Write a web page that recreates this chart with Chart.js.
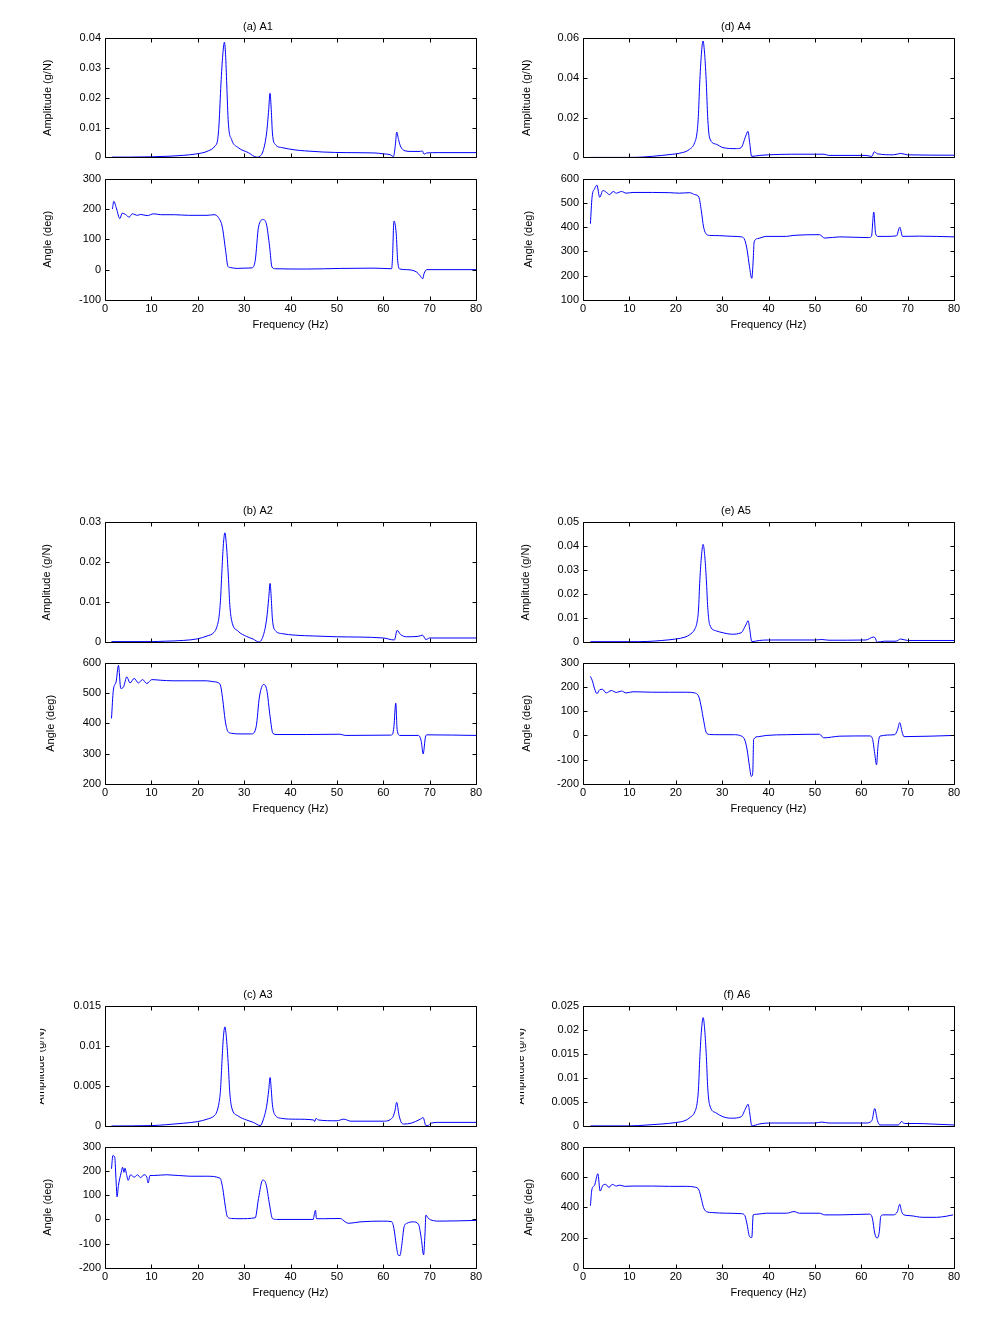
<!DOCTYPE html>
<html>
<head>
<meta charset="utf-8">
<script src="https://cdn.jsdelivr.net/npm/chart.js@4.4.1/dist/chart.umd.min.js"></script>
<style>
  body { margin: 0; background: #fff; width: 1000px; height: 1331px; position: relative; overflow: hidden; }
  canvas { position: absolute; }
</style>
</head>
<body>
<script>
// frequency ticks shared by every subplot
const xTicks = [0, 10, 20, 30, 40, 50, 60, 70, 80];

// (a) A1
const a1AmpF = [1.5, 5, 10, 14, 17, 19.4, 22.3, 23.7, 24.3, 24.6, 25, 25.4, 25.75, 26, 26.25, 26.6, 27.3, 28.7, 30.9, 32.7, 33.4, 34.1, 34.85, 35.3, 35.58, 35.85, 36.1, 36.7, 38.1, 41, 43, 47, 52, 58, 60, 61.5, 62.2, 62.6, 62.9, 63.3, 63.7, 64.7, 66, 68, 68.4, 68.8, 69.4, 72, 80];
const a1AmpY = [0.0001, 0.0001, 0.0002, 0.0004, 0.0007, 0.0011, 0.0022, 0.0038, 0.006, 0.0115, 0.0246, 0.0344, 0.0386, 0.0344, 0.0246, 0.0115, 0.006, 0.0033, 0.0016, 0.0001, 0.0004, 0.0022, 0.0082, 0.016, 0.0215, 0.016, 0.0082, 0.0044, 0.0033, 0.0025, 0.0022, 0.0018, 0.0016, 0.0015, 0.0012, 0.0009, 0.0003, 0.004, 0.0085, 0.006, 0.0038, 0.0022, 0.002, 0.002, 0.0022, 0.0011, 0.0015, 0.0016, 0.0016];
const a1AngF = [1.6, 1.9, 2.5, 3.2, 3.7, 4.4, 5.2, 5.9, 7, 7.7, 9.1, 10.5, 12, 15, 18, 22, 23.5, 24.5, 25.3, 26, 26.5, 27, 28.5, 30, 31.7, 32.4, 33.1, 34.1, 34.8, 35.5, 36, 36.7, 43.5, 50.7, 58, 61.8, 62, 62.3, 62.8, 63.1, 63.6, 65, 67.2, 67.9, 68.5, 68.8, 69.4, 80];
const a1AngY = [200, 225, 200, 168, 186, 182, 173, 184, 179, 182, 178, 184, 181, 181, 179, 179, 181, 171, 140, 64, 11, 7, 4, 5, 6, 31, 140, 165, 151, 75, 9, 3, 2, 4, 5, 3, 40, 160, 118, 31, 2, 0, -8, -19, -30, -13, 0, 0];
const a1AmpTicks = [0, 0.01, 0.02, 0.03, 0.04];
const a1AngTicks = [-100, 0, 100, 200, 300];

// (b) A2
const a2AmpF = [1.4, 10, 13, 17, 20, 22, 23.5, 24.1, 24.6, 24.9, 25.2, 25.5, 25.85, 26.2, 26.6, 26.9, 27.3, 28.7, 30.5, 32, 33.2, 34.1, 34.85, 35.3, 35.6, 35.85, 36.1, 36.7, 38.1, 41, 45, 50, 60, 62.4, 63, 63.7, 65, 67.5, 68.5, 69.2, 70, 80];
const a2AmpY = [0.0002, 0.0002, 0.0003, 0.0005, 0.0009, 0.0016, 0.0025, 0.0038, 0.0065, 0.0105, 0.0175, 0.024, 0.0273, 0.024, 0.0165, 0.0095, 0.0055, 0.0028, 0.0015, 0.0008, 0.0001, 0.0016, 0.0058, 0.011, 0.0147, 0.011, 0.0058, 0.003, 0.0022, 0.0018, 0.0016, 0.0014, 0.0011, 0.0006, 0.003, 0.002, 0.0014, 0.0015, 0.0018, 0.0007, 0.0011, 0.0011];
const a2AngF = [1.4, 1.8, 2.4, 2.9, 3.4, 4, 4.7, 5.4, 6.3, 7.2, 8.1, 9, 10.1, 11.9, 14.7, 18.3, 21.9, 23.4, 24.8, 25.4, 25.9, 26.5, 27.3, 29.1, 31.6, 32.6, 33.3, 34.2, 34.9, 35.6, 36.2, 37.1, 43.5, 50.7, 51.8, 61.5, 62, 62.3, 62.7, 63, 63.6, 67.6, 68.2, 68.6, 69.1, 69.4, 80];
const a2AngY = [416, 509, 537, 591, 515, 520, 553, 533, 548, 533, 544, 531, 544, 542, 540, 540, 540, 537, 529, 477, 411, 373, 367, 365, 365, 389, 487, 528, 509, 422, 367, 363, 363, 364, 360, 361, 364, 389, 466, 378, 360, 360, 340, 299, 355, 362, 360];
const a2AmpTicks = [0, 0.01, 0.02, 0.03];
const a2AngTicks = [200, 300, 400, 500, 600];

// (c) A3
const a3AmpF = [1.4, 10, 13, 17, 20, 22, 23.5, 24.1, 24.6, 24.9, 25.2, 25.5, 25.85, 26.2, 26.6, 26.9, 27.3, 28.7, 30.5, 32, 33.5, 34.1, 34.85, 35.3, 35.6, 35.85, 36.1, 36.7, 38.1, 41, 45, 45.2, 45.5, 46, 50, 51.5, 53, 60, 62, 62.5, 62.9, 63.4, 64, 64.5, 66, 68, 68.6, 69.2, 69.6, 70.3, 72, 80];
const a3AmpY = [0.00005, 0.0001, 0.0002, 0.0004, 0.0006, 0.0009, 0.0013, 0.0018, 0.003, 0.0045, 0.0078, 0.0109, 0.0124, 0.0109, 0.0075, 0.0043, 0.0024, 0.0013, 0.0008, 0.0005, 0.0001, 0.0008, 0.0025, 0.0045, 0.0061, 0.0046, 0.0027, 0.0014, 0.001, 0.0009, 0.0008, 0.0006, 0.001, 0.0008, 0.0007, 0.0009, 0.00065, 0.00065, 0.0011, 0.0019, 0.003, 0.0014, 0.0004, 0.0003, 0.0004, 0.0009, 0.0011, 0.0001, 0.0001, 0.0004, 0.0005, 0.0005];
const a3AngF = [1.4, 1.7, 2.1, 2.4, 2.6, 2.9, 3.5, 3.8, 4.1, 4.3, 4.7, 5, 5.5, 6.3, 7, 7.7, 8.4, 9, 9.3, 9.7, 10.5, 13.3, 18.3, 21.9, 24.8, 25.4, 25.9, 26.4, 27.3, 29.1, 32.4, 33.1, 34, 34.7, 35.5, 36.1, 37, 44.9, 45.1, 45.4, 45.6, 47.1, 50.7, 51.8, 52.5, 55, 60, 61.8, 62.3, 62.8, 63.2, 63.6, 64, 64.5, 65.1, 66.5, 67.6, 68.2, 68.7, 69, 69.2, 69.7, 70.8, 72.2, 80];
const a3AngY = [209, 263, 256, 154, 93, 140, 194, 215, 194, 211, 181, 161, 184, 174, 184, 172, 184, 175, 150, 181, 181, 184, 178, 178, 170, 127, 59, 11, 4, 3, 7, 86, 162, 147, 59, 4, 0, 0, 18, 38, 3, 3, 4, -10, -16, -10, -7, -9, -37, -105, -146, -149, -105, -30, -16, -10, -20, -78, -146, -60, 18, 5, -5, -7, -4];
const a3AmpTicks = [0, 0.005, 0.01, 0.015];
const a3AngTicks = [-200, -100, 0, 100, 200, 300];

// (d) A4
const a4AmpF = [1.6, 10, 13, 17, 19.4, 20.85, 23, 24.08, 24.58, 24.87, 25.16, 25.52, 25.88, 26.24, 26.6, 26.88, 27.3, 28.75, 30.2, 33.06, 34.1, 35.08, 35.58, 35.94, 36.37, 38, 40, 45, 52, 53, 61, 62.3, 62.8, 63.5, 67, 68.5, 70, 80];
const a4AmpY = [0, 0, 0.0002, 0.001, 0.0016, 0.0021, 0.0041, 0.0074, 0.0123, 0.0205, 0.0369, 0.0516, 0.0585, 0.0516, 0.0369, 0.0205, 0.0098, 0.0066, 0.0049, 0.0044, 0.0049, 0.0107, 0.0131, 0.0074, 0.0005, 0.001, 0.0013, 0.0016, 0.0016, 0.001, 0.001, 0.0005, 0.0028, 0.0018, 0.0013, 0.002, 0.0013, 0.0011];
const a4AngF = [1.6, 1.95, 2.5, 3, 3.6, 4.3, 5, 5.75, 6.5, 7.2, 8.3, 9.3, 10.8, 15, 18.7, 20.8, 23, 24.1, 25, 25.5, 26, 26.6, 27.3, 29.5, 32.3, 34.2, 34.9, 35.4, 35.9, 36.4, 36.7, 36.9, 37.7, 39.5, 43.9, 45.3, 51, 52.1, 55.4, 61.5, 62.2, 62.7, 63.1, 63.6, 65.4, 67.6, 68.3, 68.9, 72.6, 80];
const a4AngY = [414, 523, 558, 573, 523, 551, 544, 534, 547, 540, 547, 540, 543, 543, 542, 540, 542, 534, 523, 469, 401, 371, 366, 365, 362, 360, 346, 305, 237, 189, 264, 339, 353, 362, 362, 366, 369, 355, 360, 357, 362, 462, 373, 362, 362, 364, 400, 362, 363, 360];
const a4AmpTicks = [0, 0.02, 0.04, 0.06];
const a4AngTicks = [100, 200, 300, 400, 500, 600];

// (e) A5
const a5AmpF = [1.6, 10, 14, 17, 20, 22, 23, 24.1, 24.6, 24.9, 25.2, 25.55, 25.9, 26.25, 26.6, 26.9, 27.3, 28.7, 30.2, 32, 34.1, 35.1, 35.6, 35.95, 36.4, 38, 40, 50, 51.5, 53, 61, 62.6, 63, 63.4, 65, 67.5, 68.5, 70, 80];
const a5AmpY = [0.0003, 0.0003, 0.0004, 0.0008, 0.0014, 0.0022, 0.0032, 0.0055, 0.0085, 0.0135, 0.026, 0.036, 0.0407, 0.036, 0.026, 0.0145, 0.0075, 0.0048, 0.004, 0.0034, 0.004, 0.0072, 0.009, 0.0055, 0.0003, 0.0008, 0.001, 0.001, 0.0012, 0.0009, 0.001, 0.0022, 0.0019, 0.0001, 0.0005, 0.0005, 0.0014, 0.0008, 0.0008];
const a5AngF = [1.6, 2, 2.5, 3, 3.6, 4.2, 5, 6.1, 7.2, 8.3, 9.3, 10.8, 15, 18.7, 22.3, 24.1, 25, 25.5, 26, 26.6, 27.3, 29.5, 32.4, 34.2, 34.9, 35.4, 35.9, 36.3, 36.6, 36.8, 37.8, 39.5, 43.9, 51, 51.9, 55.4, 61.8, 62.4, 62.9, 63.3, 63.6, 64, 67.2, 67.8, 68.3, 68.8, 69.2, 80];
const a5AngY = [243, 226, 192, 172, 188, 190, 175, 185, 177, 183, 175, 180, 178, 178, 178, 175, 158, 117, 63, 11, 4, 3, 3, -3, -19, -60, -128, -169, -155, -16, -5, 0, 3, 5, -10, -3, -2, -12, -74, -121, -46, -3, 3, 22, 53, 15, -5, 0];
const a5AmpTicks = [0, 0.01, 0.02, 0.03, 0.04, 0.05];
const a5AngTicks = [-200, -100, 0, 100, 200, 300];

// (f) A6
const a6AmpF = [1.6, 10, 14, 17, 20, 22, 23, 24.1, 24.6, 24.9, 25.2, 25.55, 25.9, 26.25, 26.6, 26.9, 27.3, 28.7, 30.2, 32, 34.1, 35.1, 35.6, 35.95, 36.4, 38, 40, 50, 51.5, 53, 61, 62.3, 62.9, 63.5, 64, 65, 68, 68.7, 69.3, 72, 75, 80];
const a6AmpY = [0.0001, 0.0001, 0.0003, 0.0005, 0.0008, 0.0012, 0.0018, 0.003, 0.0048, 0.0078, 0.0145, 0.02, 0.0226, 0.02, 0.0145, 0.008, 0.0045, 0.0028, 0.002, 0.0017, 0.002, 0.0038, 0.0046, 0.0028, 0.0001, 0.0005, 0.0007, 0.0007, 0.0009, 0.0007, 0.0007, 0.0012, 0.0037, 0.0012, 0.0003, 0.0003, 0.0003, 0.001, 0.0006, 0.0006, 0.0005, 0.0003];
const a6AngF = [1.6, 1.9, 2.5, 3.2, 3.7, 4.3, 4.9, 5.6, 6.3, 7.2, 7.9, 9, 10.8, 15, 18.7, 22.3, 24.1, 25, 25.5, 26, 26.6, 28, 30.9, 34.2, 34.9, 35.4, 35.9, 36.4, 36.7, 37.4, 39.5, 43.9, 45.5, 46.7, 51, 52.1, 55.4, 61.8, 62.4, 62.9, 63.4, 63.9, 64.2, 64.7, 66.9, 67.8, 68.3, 68.7, 69.2, 70.5, 73.3, 76.2, 78.3, 79.8];
const a6AngY = [411, 514, 546, 621, 507, 546, 551, 531, 551, 540, 546, 538, 540, 540, 538, 538, 533, 514, 459, 398, 372, 365, 361, 358, 345, 284, 208, 201, 350, 354, 361, 361, 372, 361, 361, 350, 350, 355, 328, 230, 197, 240, 339, 350, 350, 372, 420, 372, 350, 345, 334, 334, 341, 350];
const a6AmpTicks = [0, 0.005, 0.01, 0.015, 0.02, 0.025];
const a6AngTicks = [0, 200, 400, 600, 800];

const FONT = "'Liberation Sans', Arial, Helvetica, sans-serif";
Chart.defaults.font.family = FONT;
Chart.defaults.font.size = 11;
Chart.defaults.color = '#000';

// MATLAB-like box with inward ticks on all four sides
const matlabAxes = {
  id: 'matlabAxes',
  afterDatasetsDraw(chart, args, opts) {
    const { ctx, chartArea } = chart;
    const xs = chart.scales.x, ys = chart.scales.y;
    const L = Math.round(chartArea.left) + 0.5, R = Math.round(chartArea.right) + 0.5;
    const T = Math.round(chartArea.top) + 0.5, B = Math.round(chartArea.bottom) + 0.5;
    const len = 4;
    ctx.save();
    ctx.strokeStyle = '#000';
    ctx.lineWidth = 1;
    ctx.beginPath();
    ctx.rect(L, T, R - L, B - T);
    opts.xt.forEach(v => {
      const px = Math.round(xs.getPixelForValue(v)) + 0.5;
      ctx.moveTo(px, B); ctx.lineTo(px, B - len);
      ctx.moveTo(px, T); ctx.lineTo(px, T + len);
    });
    opts.yt.forEach(v => {
      const py = Math.round(ys.getPixelForValue(v)) + 0.5;
      ctx.moveTo(L, py); ctx.lineTo(L + len, py);
      ctx.moveTo(R, py); ctx.lineTo(R - len, py);
    });
    ctx.stroke();
    ctx.restore();
  }
};

const PLOT_W = 371;

function pts(f, v) {
  return f.map((x, i) => ({ x: x, y: v[i] }));
}

function addCanvas(left, top, w, h) {
  const c = document.createElement('canvas');
  c.width = w;
  c.height = h;
  c.style.left = left + 'px';
  c.style.top = top + 'px';
  document.body.appendChild(c);
  return c;
}

function subplot(o) {
  const axisW = o.axisW || 65;
  const isAmp = o.kind === 'amp';
  const padTop = isAmp ? 24 : 10;
  const padBottom = isAmp ? 8 : 32;
  const c = addCanvas(o.plotLeft - axisW, o.plotTop - padTop, axisW + PLOT_W + 15, padTop + o.plotH + padBottom);

  const yTicks = o.yTicks;
  new Chart(c, {
    type: 'line',
    data: {
      datasets: [{
        data: pts(o.f, o.v),
        borderColor: '#0000ff',
        borderWidth: 1,
        pointRadius: 0,
        fill: false,
        cubicInterpolationMode: 'monotone'
      }]
    },
    options: {
      responsive: false,
      animation: false,
      events: [],
      layout: { padding: { left: 0, right: 15, top: isAmp ? 0 : 10, bottom: isAmp ? 8 : 0 } },
      plugins: {
        legend: { display: false },
        tooltip: { enabled: false },
        title: {
          display: isAmp,
          text: o.title || '',
          color: '#000',
          font: { size: 11, weight: 'normal', lineHeight: '13px' },
          padding: { top: 6, bottom: 5 }
        },
        matlabAxes: { xt: xTicks, yt: yTicks }
      },
      scales: {
        x: {
          type: 'linear',
          min: 0,
          max: 80,
          display: !isAmp,
          afterBuildTicks: s => { s.ticks = xTicks.map(v => ({ value: v })); },
          ticks: { padding: 2, autoSkip: false, maxRotation: 0, callback: v => String(v) },
          grid: { display: false, drawTicks: false },
          border: { display: false },
          title: {
            display: true,
            text: 'Frequency (Hz)',
            color: '#000',
            font: { size: 11, lineHeight: '13px' },
            padding: { top: 0, bottom: 1 }
          },
          afterFit: s => { s.height = isAmp ? 0 : 32; }
        },
        y: {
          type: 'linear',
          min: yTicks[0],
          max: yTicks[yTicks.length - 1],
          afterBuildTicks: s => { s.ticks = yTicks.map(v => ({ value: v })); },
          ticks: { padding: 4, autoSkip: false, callback: v => String(v) },
          grid: { display: false, drawTicks: false },
          border: { display: false },
          title: {
            display: true,
            text: isAmp ? 'Amplitude (g/N)' : 'Angle (deg)',
            color: '#000',
            font: { size: 11, lineHeight: '13px' },
            padding: { top: o.labelPad, bottom: 0 }
          },
          afterFit: s => { s.width = axisW; }
        }
      }
    },
    plugins: [matlabAxes]
  });
}

// left column
subplot({ kind: 'amp', title: '(a) A1', plotLeft: 105, plotTop: 38, plotH: 122, f: a1AmpF, v: a1AmpY, yTicks: a1AmpTicks, labelPad: 1 });
subplot({ kind: 'ang', plotLeft: 105, plotTop: 178, plotH: 122, f: a1AngF, v: a1AngY, yTicks: a1AngTicks, labelPad: 1.2 });
subplot({ kind: 'amp', title: '(b) A2', plotLeft: 105, plotTop: 522, plotH: 123, f: a2AmpF, v: a2AmpY, yTicks: a2AmpTicks, labelPad: 0.7 });
subplot({ kind: 'ang', plotLeft: 105, plotTop: 662, plotH: 122, f: a2AngF, v: a2AngY, yTicks: a2AngTicks, labelPad: 4 });
subplot({ kind: 'amp', title: '(c) A3', plotLeft: 105, plotTop: 1006, plotH: 123, f: a3AmpF, v: a3AmpY, yTicks: a3AmpTicks, labelPad: -5.5 });
subplot({ kind: 'ang', plotLeft: 105, plotTop: 1146, plotH: 122, f: a3AngF, v: a3AngY, yTicks: a3AngTicks, labelPad: 1.2 });

// right column
subplot({ kind: 'amp', title: '(d) A4', plotLeft: 583, plotTop: 38, plotH: 122, f: a4AmpF, v: a4AmpY, yTicks: a4AmpTicks, labelPad: 2.2 });
subplot({ kind: 'ang', plotLeft: 583, plotTop: 178, plotH: 122, f: a4AngF, v: a4AngY, yTicks: a4AngTicks, labelPad: 4.5 });
subplot({ kind: 'amp', title: '(e) A5', plotLeft: 583, plotTop: 522, plotH: 123, f: a5AmpF, v: a5AmpY, yTicks: a5AmpTicks, labelPad: 1.7 });
subplot({ kind: 'ang', plotLeft: 583, plotTop: 662, plotH: 122, f: a5AngF, v: a5AngY, yTicks: a5AngTicks, labelPad: 2 });
subplot({ kind: 'amp', title: '(f) A6', plotLeft: 583, plotTop: 1006, plotH: 123, f: a6AmpF, v: a6AmpY, yTicks: a6AmpTicks, labelPad: -5.5, axisW: 63 });
subplot({ kind: 'ang', plotLeft: 583, plotTop: 1146, plotH: 122, f: a6AngF, v: a6AngY, yTicks: a6AngTicks, labelPad: 4.5 });
</script>
</body>
</html>
